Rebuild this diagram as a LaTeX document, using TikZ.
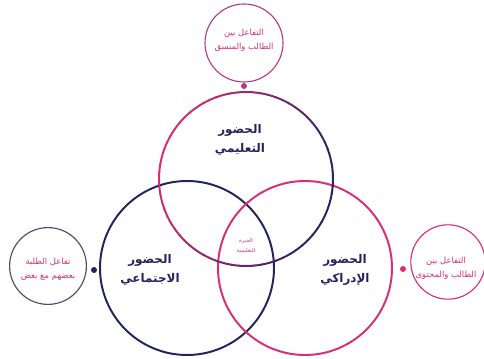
\documentclass[tikz,border=0pt]{standalone}
\usepackage{fontspec}
\newfontfamily\arabicfont[Script=Arabic]{DejaVu Sans}
\TeXXeTstate=1
\definecolor{navy}{HTML}{25225E}
\definecolor{rosa}{HTML}{D92E76}
\definecolor{plum}{HTML}{B23A86}
\definecolor{slate}{HTML}{4A4A6E}
\newcommand{\ar}[1]{\beginR #1\endR}

\begin{document}
\begin{tikzpicture}[
  bigring/.style={line width=1.4pt},
  smallring/.style={line width=0.8pt},
  bigtext/.style={font=\arabicfont\bfseries\fontsize{8.5}{14}\selectfont, text=navy, align=center},
  smalltext/.style={font=\arabicfont\fontsize{6}{10}\selectfont, text=rosa, align=center},
  midtext/.style={font=\arabicfont\fontsize{3.8}{7}\selectfont, text=rosa, align=center}
]
  \useasboundingbox (0,0) rectangle (12.1,8.95);

  % three big rings
  \draw[bigring, draw=navy] (4.675,2.25) circle (2.175); % social
  \draw[bigring, draw=rosa] (7.625,2.25) circle (2.175); % cognitive
  \foreach \a in {0,5,...,355} { % teaching, pink to navy
    \pgfmathsetmacro\p{50-50*cos(\a+20)}
    \draw[bigring, draw=rosa!\p!navy] (6.15,4.475) ++(\a:2.175) arc[start angle=\a, end angle=\a+5.5, radius=2.175];
  }

  % labels in the rings
  \node[bigtext] (teach) at (6.0,5.45) {\ar{الحضور}\\\ar{التعليمي}};
  \node[bigtext] (social) at (3.75,2.2) {\ar{الحضور}\\\ar{الاجتماعي}};
  \node[bigtext] (cogn) at (8.625,2.2) {\ar{الحضور}\\\ar{الإدراكي}};
  \node[midtext] (exp) at (6.15,2.8) {\ar{الخبرة}\\\ar{التعليمية}};

  % small rings outside
  \draw[smallring, draw=plum] (6.1,7.875) circle (0.975);
  \draw[smallring, draw=slate] (1.2,2.3) circle (0.96);
  \draw[smallring, draw=rosa] (11.2,2.4) circle (0.93);
  \node[smalltext] (tutor) at (6.1,7.95) {\ar{التفاعل بين}\\\ar{الطالب والمنسق}};
  \node[smalltext] (peers) at (1.2,2.225) {\ar{تفاعل الطلبة}\\\ar{بعضهم مع بعض}};
  \node[smalltext] (content) at (11.15,2.25) {\ar{التفاعل بين}\\\ar{الطالب والمحتوى}};

  % dots
  \fill[plum] (6.1,6.8) circle (0.075);
  \fill[navy] (2.35,2.2) circle (0.075);
  \fill[rosa] (10.075,2.225) circle (0.075);
\end{tikzpicture}
\end{document}
